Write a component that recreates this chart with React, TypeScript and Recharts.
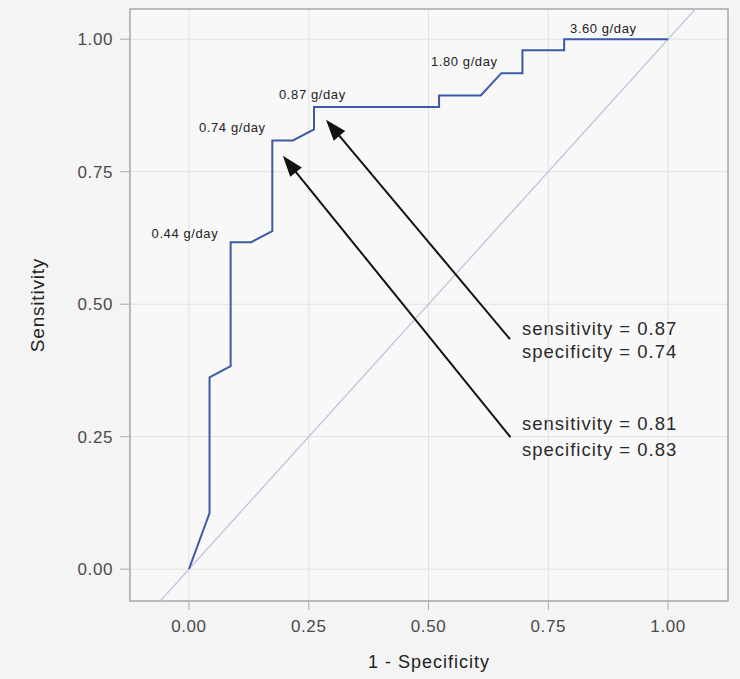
import { LineChart, Line, XAxis, YAxis, CartesianGrid, ReferenceArea, ReferenceLine, ReferenceDot } from "recharts";

// ROC curve (1 - specificity, sensitivity)
const FPR = [0, 0.043, 0.043, 0.087, 0.087, 0.13, 0.174, 0.174, 0.217, 0.261, 0.261, 0.522, 0.522, 0.609, 0.652, 0.696, 0.696, 0.783, 0.783, 1.0];
const TPR = [0, 0.106, 0.362, 0.383, 0.617, 0.617, 0.638, 0.809, 0.809, 0.83, 0.872, 0.872, 0.894, 0.894, 0.936, 0.936, 0.979, 0.979, 1.0, 1.0];

// chance line
const DIAG_X = [-0.07, 1.07];

const TICKS = [0, 0.25, 0.5, 0.75, 1];
const X_DOMAIN: [number, number] = [-0.123, 1.125];
const Y_DOMAIN: [number, number] = [-0.06, 1.057];

// cut-off labels (text start, middle)
const CUTOFFS = [
  { text: "0.44 g/day", x: -0.078, y: 0.634 },
  { text: "0.74 g/day", x: 0.021, y: 0.833 },
  { text: "0.87 g/day", x: 0.188, y: 0.895 },
  { text: "1.80 g/day", x: 0.505, y: 0.958 },
  { text: "3.60 g/day", x: 0.795, y: 1.021 },
];

const ARROWS = [
  { from: { x: 0.67, y: 0.434 }, to: { x: 0.286, y: 0.848 } },
  { from: { x: 0.671, y: 0.249 }, to: { x: 0.196, y: 0.78 } },
];

const NOTES = [
  { text: "sensitivity = 0.87", x: 0.695, y: 0.455 },
  { text: "specificity = 0.74", x: 0.695, y: 0.41 },
  { text: "sensitivity = 0.81", x: 0.695, y: 0.274 },
  { text: "specificity = 0.83", x: 0.695, y: 0.225 },
];

const roc = FPR.map((x, i) => ({ x, y: TPR[i] }));
const diag = DIAG_X.map((x) => ({ x, y: x }));

const FONT = "'Liberation Sans', Arial, sans-serif";

const Arrow = (p: any) => {
  const { x1, y1, x2, y2 } = p;
  const dx = x2 - x1;
  const dy = y2 - y1;
  const len = Math.sqrt(dx * dx + dy * dy);
  const ux = dx / len;
  const uy = dy / len;
  const hl = 21;
  const hw = 7.5;
  const bx = x2 - ux * hl;
  const by = y2 - uy * hl;
  return (
    <g>
      <line x1={x1} y1={y1} x2={bx + ux * 4} y2={by + uy * 4} stroke="#111" strokeWidth={2} />
      <polygon
        points={`${x2},${y2} ${bx - uy * hw},${by + ux * hw} ${bx + uy * hw},${by - ux * hw}`}
        fill="#111"
      />
    </g>
  );
};

export default function App() {
  return (
    <div style={{ position: "fixed", left: 0, top: 0, width: 740, height: 679, background: "#f4f4f4" }}>
      <LineChart width={740} height={679} margin={{ top: 9, right: 12, left: 0, bottom: 0 }}>
        <CartesianGrid stroke="#e2e2e2" fill="#f8f8f8" />
        <XAxis
          type="number"
          dataKey="x"
          domain={X_DOMAIN}
          ticks={TICKS}
          allowDataOverflow
          tickFormatter={(v: number) => v.toFixed(2)}
          axisLine={false}
          tickSize={9}
          tickMargin={10}
          height={78}
          tick={{ fill: "#4a4a4a", fontSize: 17, fontFamily: FONT, letterSpacing: 0.6 }}
          tickLine={{ stroke: "#aaaaaa" }}
          label={{
            content: ({ viewBox }: any) => (
              <text
                x={viewBox.x + viewBox.width / 2}
                y={viewBox.y + 67}
                textAnchor="middle"
                fontSize={18}
                letterSpacing={1}
                fontFamily={FONT}
                fill="#222"
              >
                1 - Specificity
              </text>
            ),
          }}
        />
        <YAxis
          type="number"
          dataKey="y"
          domain={Y_DOMAIN}
          ticks={TICKS}
          allowDataOverflow
          tickFormatter={(v: number) => v.toFixed(2)}
          axisLine={false}
          tickSize={10}
          tickMargin={7}
          width={130}
          tick={{ fill: "#4a4a4a", fontSize: 17, fontFamily: FONT, letterSpacing: 0.6 }}
          tickLine={{ stroke: "#aaaaaa" }}
          label={{
            content: ({ viewBox }: any) => {
              const cy = viewBox.y + viewBox.height / 2;
              return (
                <text
                  x={44}
                  y={cy}
                  transform={`rotate(-90 44 ${cy})`}
                  textAnchor="middle"
                  fontSize={19}
                  letterSpacing={0.8}
                  fontFamily={FONT}
                  fill="#222"
                >
                  Sensitivity
                </text>
              );
            },
          }}
        />
        <ReferenceArea
          x1={X_DOMAIN[0]}
          x2={X_DOMAIN[1]}
          y1={Y_DOMAIN[0]}
          y2={Y_DOMAIN[1]}
          ifOverflow="visible"
          fill="none"
          stroke="#aaaaaa"
          strokeWidth={1.5}
        />
        <Line
          data={diag}
          dataKey="y"
          type="linear"
          stroke="#bcc6dc"
          strokeWidth={1.3}
          dot={false}
          isAnimationActive={false}
        />
        <Line
          data={roc}
          dataKey="y"
          type="linear"
          stroke="#3d5aa6"
          strokeWidth={2}
          dot={false}
          isAnimationActive={false}
        />
        {CUTOFFS.map((c) => (
          <ReferenceDot
            key={c.text}
            x={c.x}
            y={c.y}
            r={0}
            ifOverflow="visible"
            shape={(p: any) => (
              <text
                x={p.cx}
                y={p.cy}
                dominantBaseline="central"
                fontSize={13}
                letterSpacing={0.6}
                fontFamily={FONT}
                fill="#222"
              >
                {c.text}
              </text>
            )}
          />
        ))}
        {ARROWS.map((a, i) => (
          <ReferenceLine key={i} segment={[a.from, a.to]} ifOverflow="visible" shape={Arrow} />
        ))}
        {NOTES.map((n) => (
          <ReferenceDot
            key={n.text}
            x={n.x}
            y={n.y}
            r={0}
            ifOverflow="visible"
            shape={(p: any) => (
              <text
                x={p.cx}
                y={p.cy}
                dominantBaseline="central"
                fontSize={18.5}
                letterSpacing={1}
                fontFamily={FONT}
                fill="#2a2a2a"
              >
                {n.text}
              </text>
            )}
          />
        ))}
      </LineChart>
    </div>
  );
}
